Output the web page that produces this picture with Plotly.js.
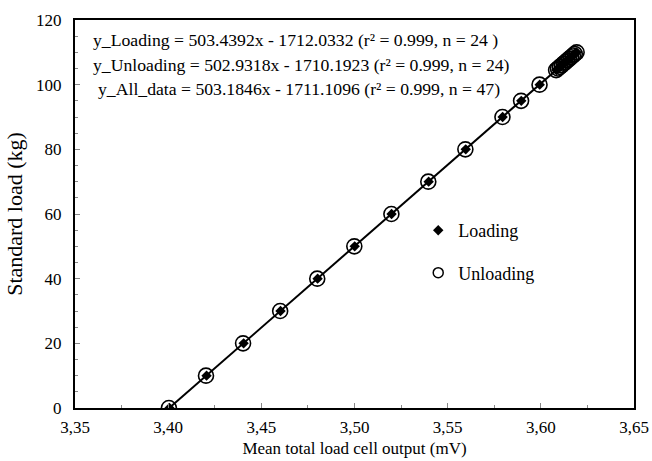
<!DOCTYPE html>
<html><head><meta charset="utf-8">
<script src="https://cdn.plot.ly/plotly-3.0.1.min.js"></script>
<style>html,body{margin:0;padding:0;background:#fff}#chart{width:652px;height:461px}</style>
</head><body><div id="chart"></div>
<script>
// Standard load (kg)
const loadY = [0,10,20,30,40,50,60,70,80,90,95,100,104.5,105,105.5,106,106.5,107,107.5,108,108.5,109,109.5,110];
const loadingX = [3.4007,3.4206,3.4405,3.4603,3.4802,3.5001,3.5199,3.5398,3.5597,3.5795,3.5895,3.5994,3.6083,3.6093,3.6103,3.6113,3.6123,3.6133,3.6143,3.6153,3.6162,3.6172,3.6182,3.6192];
const unloadingX = [3.4004,3.4203,3.4402,3.4601,3.4800,3.4999,3.5198,3.5396,3.5595,3.5794,3.5894,3.5993,3.6082,3.6092,3.6102,3.6112,3.6122,3.6132,3.6142,3.6152,3.6162,3.6172,3.6182,3.6192];
const fitSlope = 503.1846, fitIntercept = -1711.1096;
const equations = [
  "y_Loading = 503.4392x - 1712.0332 (r² = 0.999, n = 24 )",
  "y_Unloading = 502.9318x - 1710.1923 (r² = 0.999, n = 24)",
  "y_All_data = 503.1846x - 1711.1096 (r² = 0.999, n = 47)"
];
const xTitle = "Mean total load cell output (mV)";
const yTitle = "Standard load (kg)";

const allX = loadingX.concat(unloadingX);
const fx = [Math.min(...allX), Math.max(...allX)];
const fy = fx.map(x => fitSlope*x + fitIntercept);

const F = "Liberation Serif";
const traces = [
  {x: fx, y: fy, mode: 'lines', line: {color: '#000', width: 2}, showlegend: false, hoverinfo: 'skip'},
  {x: unloadingX, y: loadY, mode: 'markers', name: 'Unloading', showlegend: false,
   marker: {symbol: 'circle-open', size: 15, color: '#000', line: {width: 1.6, color: '#000'}}},
  {x: loadingX, y: loadY, mode: 'markers', name: 'Loading', showlegend: false,
   marker: {symbol: 'diamond', size: 8, color: '#000'}},
  {x: [null], y: [null], mode: 'markers', name: 'Loading', legendgroup: 'a',
   marker: {symbol: 'diamond', size: 8, color: '#000'}},
  {x: [null], y: [null], mode: 'markers', name: 'Unloading', legendgroup: 'b',
   marker: {symbol: 'circle-open', size: 10, color: '#000', line: {width: 1.5, color: '#000'}}}
];
const layout = {
  width: 652, height: 461,
  margin: {l: 75, r: 18, t: 20, b: 53},
  paper_bgcolor: '#fff', plot_bgcolor: '#fff',
  font: {family: F, size: 17, color: '#000'},
  separators: ',.',
  showlegend: true,
  legend: {x: 0.614, y: 0.505, xanchor: 'left', yanchor: 'top', traceorder: 'grouped', tracegroupgap: 16,
           bgcolor: 'rgba(0,0,0,0)', font: {family: F, size: 18}},
  xaxis: {range: [3.35, 3.65], dtick: 0.05, tickformat: '.2f', ticks: 'inside', ticklen: 5, tickcolor: '#888',
          minor: {dtick: 0.025, ticks: 'inside', ticklen: 3, tickcolor: '#888'}, ticklabelstandoff: 3,
          showgrid: false, zeroline: false, showline: true, linecolor: '#000', linewidth: 2, mirror: true,
          tickfont: {family: F, size: 17}, title: {text: xTitle, font: {family: F, size: 17}, standoff: 6}},
  yaxis: {range: [0, 120], dtick: 20, ticks: 'inside', ticklen: 5, tickcolor: '#888',
          minor: {dtick: 5, ticks: 'inside', ticklen: 3, tickcolor: '#888'}, ticklabelstandoff: 8,
          showgrid: false, zeroline: false, showline: true, linecolor: '#000', linewidth: 2, mirror: true,
          tickfont: {family: F, size: 17}, title: {text: yTitle, font: {family: F, size: 22}, standoff: 7}},
  annotations: equations.map((t, i) => ({
    text: t, xref: 'paper', yref: 'paper', x: i === 2 ? 0.037 : 0.029, y: 1 - (20 + i*24.5)/388, xanchor: 'left', yanchor: 'middle',
    showarrow: false, font: {family: F, size: 17.7, color: '#000'}
  }))
};
Plotly.newPlot('chart', traces, layout, {displayModeBar: false, staticPlot: true});
</script></body></html>
